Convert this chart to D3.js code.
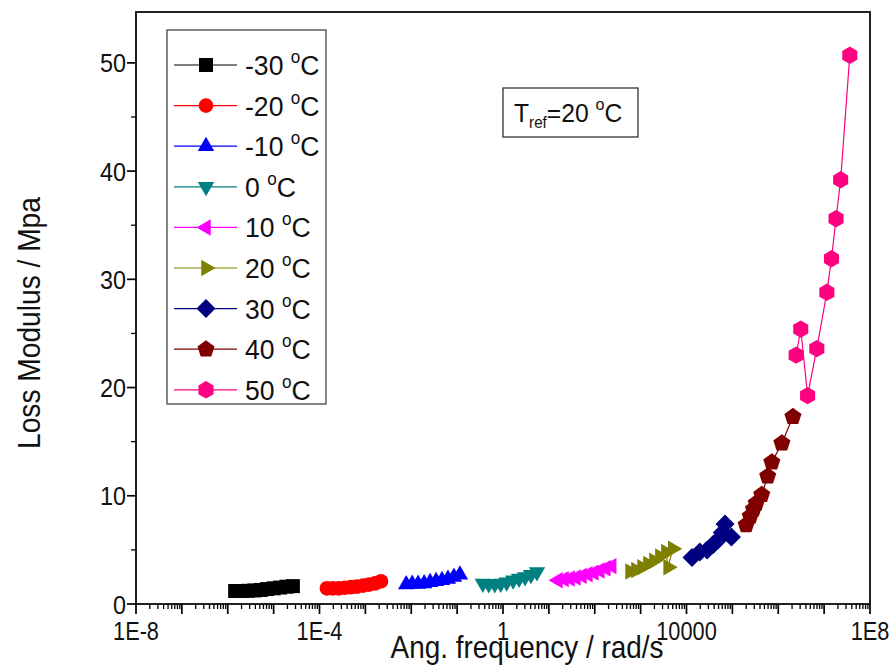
<!DOCTYPE html>
<html><head><meta charset="utf-8">
<script src="https://cdn.jsdelivr.net/npm/d3@7"></script>
<style>body{margin:0;background:#fff}svg{display:block}text{font-family:"Liberation Sans",Arial,sans-serif;fill:#111}</style>
</head><body><svg id="c" width="895" height="671"></svg>
<script>
// ---- data ----
const seriesNames = ["-30", "-20", "-10", "0", "10", "20", "30", "40", "50"];
const seriesColors = ["#000000", "#ff0000", "#0000ff", "#008080", "#ff00ff", "#808000", "#000080", "#800000", "#ff0080"];
const seriesShapes = ["square", "circle", "triUp", "triDown", "triLeft", "triRight", "diamond", "pentagon", "hexagon"];

const freqM30 = [1.45e-6, 2.0e-6, 2.75e-6, 3.8e-6, 5.25e-6, 7.24e-6, 1.0e-5, 1.38e-5, 1.91e-5, 2.63e-5];
const lossM30 = [1.2, 1.2, 1.22, 1.25, 1.3, 1.38, 1.45, 1.52, 1.6, 1.65];
const freqM20 = [1.45e-4, 1.95e-4, 2.63e-4, 3.55e-4, 4.79e-4, 6.46e-4, 8.91e-4, 1.2e-3, 1.62e-3, 2.19e-3];
const lossM20 = [1.45, 1.45, 1.45, 1.5, 1.55, 1.6, 1.7, 1.8, 1.9, 2.1];
const freqM10 = [7.76e-3, 1.05e-2, 1.41e-2, 1.91e-2, 2.57e-2, 3.47e-2, 4.68e-2, 6.31e-2, 8.51e-2, 0.115];
const lossM10 = [1.8, 1.85, 1.85, 1.9, 2.0, 2.1, 2.2, 2.3, 2.5, 2.7];
const freqP0 = [0.363, 0.49, 0.661, 0.891, 1.2, 1.66, 2.24, 3.02, 4.07, 5.5];
const lossP0 = [1.9, 1.85, 1.85, 1.9, 2.0, 2.2, 2.35, 2.5, 2.7, 2.95];
const freqP10 = [15.8, 21.4, 28.8, 38.9, 52.5, 70.8, 95.5, 129, 174, 234];
const lossP10 = [2.2, 2.3, 2.35, 2.45, 2.6, 2.75, 2.9, 3.1, 3.3, 3.5];
const freqP20 = [589, 794, 1072, 1445, 1950, 2630, 3548, 3981, 5012];
const lossP20 = [3.0, 3.15, 3.4, 3.7, 4.0, 4.4, 4.8, 3.4, 5.1];
const freqP30 = [13183, 19498, 28184, 38019, 47863, 60256, 69183, 95499];
const lossP30 = [4.3, 4.8, 5.0, 5.5, 5.9, 6.6, 7.4, 6.2];
const freqP40 = [199526, 245471, 288403, 331131, 436516, 588844, 724436, 1.2e6, 2.09e6];
const lossP40 = [7.3, 8.1, 8.75, 9.3, 10.1, 11.8, 13.1, 14.85, 17.3];
const freqP50 = [2.455e6, 3.09e6, 4.365e6, 6.92e6, 1.148e7, 1.445e7, 1.82e7, 2.29e7, 3.63e7];
const lossP50 = [23.0, 25.4, 19.25, 23.6, 28.8, 31.9, 35.6, 39.2, 50.7];

const freqs = [freqM30, freqM20, freqM10, freqP0, freqP10, freqP20, freqP30, freqP40, freqP50];
const losses = [lossM30, lossM20, lossM10, lossP0, lossP10, lossP20, lossP30, lossP40, lossP50];

const xTickValues = [1e-8, 1e-4, 1, 1e4, 1e8];
const xTickLabels = ["1E-8", "1E-4", "1", "10000", "1E8"];
const yTickValues = [0, 10, 20, 30, 40, 50];

// ---- layout ----
const L = 136, R = 870, T = 12, B = 604;
const svg = d3.select("#c");
const x = d3.scaleLog().domain([1e-8, 1e8]).range([L, R]);
const y = d3.scaleLinear().domain([0, 54.7]).range([B, T]);

// condensed text helper
function ctext(parent, px, py, size, sx, anchor, rot) {
  return parent.append("text")
    .attr("transform", `translate(${px},${py})` + (rot ? ` rotate(${rot})` : "") + ` scale(${sx},1)`)
    .attr("font-size", size).attr("text-anchor", anchor || "start");
}

// frame
svg.append("rect").attr("x", L).attr("y", T).attr("width", R - L).attr("height", B - T)
  .attr("fill", "none").attr("stroke", "#222").attr("stroke-width", 2);

// x axis ticks
const minorX = [];
for (let e = -8; e < 8; e++) for (let k = 2; k <= 9; k++) minorX.push(k * Math.pow(10, e));
const decX = d3.range(-8, 9).map(e => Math.pow(10, e));
const gx = svg.append("g");
gx.selectAll("line.mi").data(minorX).join("line")
  .attr("x1", d => x(d)).attr("x2", d => x(d)).attr("y1", B).attr("y2", B + 5)
  .attr("stroke", "#000").attr("stroke-width", 1.3);
gx.selectAll("line.ma").data(decX).join("line")
  .attr("x1", d => x(d)).attr("x2", d => x(d)).attr("y1", B).attr("y2", B + 10)
  .attr("stroke", "#000").attr("stroke-width", 1.7);
xTickValues.forEach((v, i) => {
  ctext(gx, x(v), B + 36, 25, 0.87, "middle").text(xTickLabels[i]);
});

// y axis ticks
const gy = svg.append("g");
gy.selectAll("line.mi").data(d3.range(5, 55, 10)).join("line")
  .attr("x1", L - 5).attr("x2", L).attr("y1", d => y(d)).attr("y2", d => y(d))
  .attr("stroke", "#000").attr("stroke-width", 1.3);
gy.selectAll("line.ma").data(yTickValues).join("line")
  .attr("x1", L - 9).attr("x2", L).attr("y1", d => y(d)).attr("y2", d => y(d))
  .attr("stroke", "#000").attr("stroke-width", 1.7);
yTickValues.forEach(v => {
  ctext(gy, L - 10, y(v) + 9.5, 26, 0.9, "end").text(v);
});

// axis titles
ctext(svg, 527, 658, 31, 0.9, "middle").text("Ang. frequency / rad/s");
ctext(svg, 40, 323, 32, 0.88, "middle", -90).text("Loss Modulus / Mpa");

// symbols
function poly(n, r, rot) {
  const pts = d3.range(n).map(i => {
    const a = rot + i * 2 * Math.PI / n;
    return [r * Math.cos(a), r * Math.sin(a)];
  });
  return "M" + pts.map(p => p.join(",")).join("L") + "Z";
}
const shapePath = {
  square: poly(4, 9.9, Math.PI / 4),
  circle: d3.symbol(d3.symbolCircle, 170)(),
  triUp: poly(3, 9.5, -Math.PI / 2),
  triDown: poly(3, 9.5, Math.PI / 2),
  triLeft: poly(3, 9.5, Math.PI),
  triRight: poly(3, 9.5, 0),
  diamond: poly(4, 9.5, 0),
  pentagon: poly(5, 9, -Math.PI / 2),
  hexagon: poly(6, 8.7, -Math.PI / 2)
};

// series
const line = d3.line().x(d => x(d[0])).y(d => y(d[1]));
seriesNames.forEach((nm, i) => {
  const pts = freqs[i].map((f, j) => [f, losses[i][j]]);
  const g = svg.append("g");
  g.append("path").attr("d", line(pts)).attr("fill", "none")
    .attr("stroke", seriesColors[i]).attr("stroke-width", 1.2);
  g.selectAll("path.m").data(pts).join("path").attr("class", "m")
    .attr("transform", d => `translate(${x(d[0])},${y(d[1])})`)
    .attr("d", shapePath[seriesShapes[i]]).attr("fill", seriesColors[i]);
});

// legend
const lg = svg.append("g");
lg.append("rect").attr("x", 167).attr("y", 30).attr("width", 159).attr("height", 374)
  .attr("fill", "#fff").attr("stroke", "#444").attr("stroke-width", 1.3);
seriesNames.forEach((nm, i) => {
  const cy = 65 + i * 40.6;
  lg.append("line").attr("x1", 174).attr("x2", 237).attr("y1", cy).attr("y2", cy)
    .attr("stroke", seriesColors[i]).attr("stroke-width", 1.2);
  lg.append("path").attr("transform", `translate(206,${cy})`).attr("d", shapePath[seriesShapes[i]])
    .attr("fill", seriesColors[i]);
  const t = ctext(lg, 245, cy + 10, 28, 0.95, "start");
  t.append("tspan").text(nm + " ");
  t.append("tspan").attr("font-size", 18).attr("dy", -12).text("o");
  t.append("tspan").attr("dy", 12).text("C");
});

// T_ref box
svg.append("rect").attr("x", 503).attr("y", 88).attr("width", 135).attr("height", 49)
  .attr("fill", "#fff").attr("stroke", "#333").attr("stroke-width", 1.3);
const tr = ctext(svg, 514, 122, 26, 0.95, "start");
tr.append("tspan").text("T");
tr.append("tspan").attr("font-size", 16).attr("dy", 6).text("ref");
tr.append("tspan").attr("dy", -6).text("=20 ");
tr.append("tspan").attr("font-size", 17).attr("dy", -12).text("o");
tr.append("tspan").attr("dy", 12).text("C");
</script></body></html>
